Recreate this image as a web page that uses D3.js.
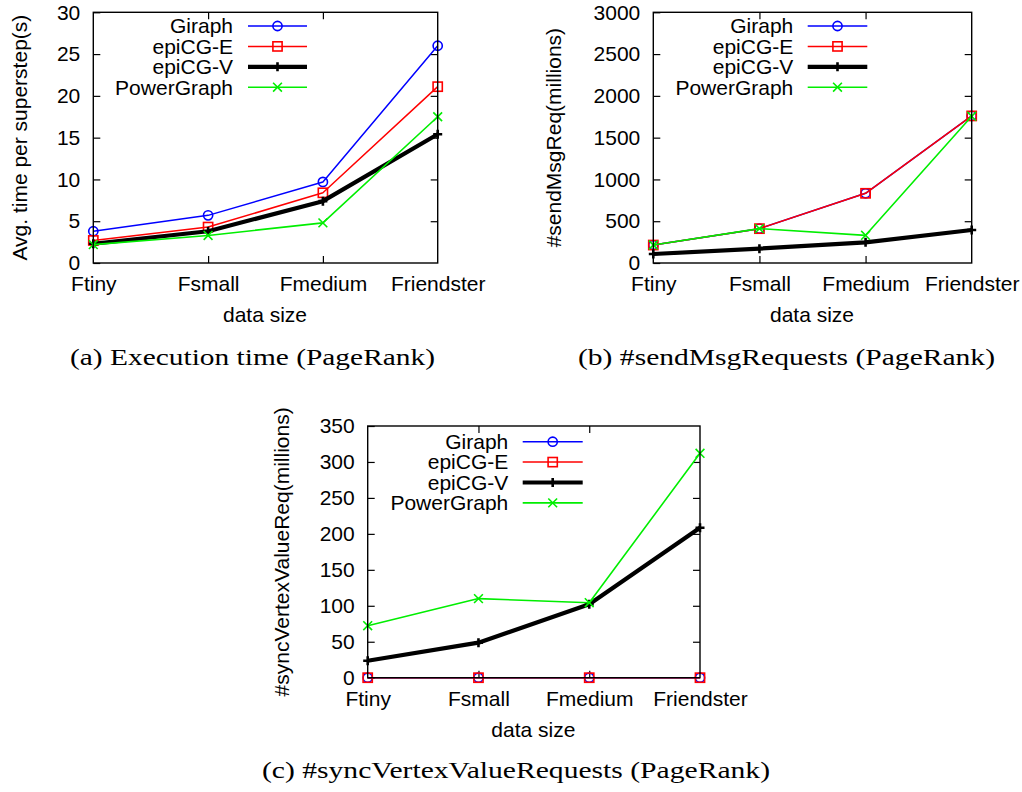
<!DOCTYPE html>
<html>
<head>
<meta charset="utf-8">
<script src="https://cdn.jsdelivr.net/npm/d3@7"></script>
<style>
  html, body { margin: 0; padding: 0; background: #fff; }
  svg { display: block; }
  text { font-family: "Liberation Sans", Arial, Helvetica, sans-serif; fill: #000; }
</style>
</head>
<body>
<svg id="chart" width="1022" height="792"></svg>
<script>
// ---------- data ----------
const categories = ["Ftiny", "Fsmall", "Fmedium", "Friendster"];
const seriesNames = ["Giraph", "epiCG-E", "epiCG-V", "PowerGraph"];

// (a) Execution time (PageRank) – seconds
const timeGiraph     = [3.8, 5.7, 9.7, 26.0];
const timeEpicgE     = [2.7, 4.3, 8.4, 21.1];
const timeEpicgV     = [2.3, 3.8, 7.4, 15.4];
const timePowerGraph = [2.2, 3.3, 4.8, 17.5];
const timeTicks = [0, 5, 10, 15, 20, 25, 30];

// (b) #sendMsgRequests (PageRank) – millions
const msgGiraph     = [215, 411, 834, 1760];
const msgEpicgE     = [215, 411, 834, 1760];
const msgEpicgV     = [108, 172, 247, 395];
const msgPowerGraph = [215, 411, 331, 1755];
const msgTicks = [0, 500, 1000, 1500, 2000, 2500, 3000];

// (c) #syncVertexValueRequests (PageRank) – millions
const syncGiraph     = [0, 0, 0, 0];
const syncEpicgE     = [0, 0, 0, 0];
const syncEpicgV     = [23.6, 48.7, 102, 208.6];
const syncPowerGraph = [72.3, 110, 104.3, 312];
const syncTicks = [0, 50, 100, 150, 200, 250, 300, 350];

// ---------- styles ----------
const seriesStyle = {
  "Giraph":     { color: "#0000ff", width: 1.5, marker: "circle" },
  "epiCG-E":    { color: "#ff0000", width: 1.5, marker: "square" },
  "epiCG-V":    { color: "#000000", width: 4.2, marker: "plus" },
  "PowerGraph": { color: "#00ee00", width: 1.6, marker: "cross" }
};

const panels = [
  {
    series: [timeGiraph, timeEpicgE, timeEpicgV, timePowerGraph],
    ticks: timeTicks, ylabel: "Avg. time per superstep(s)",
    left: 93.3, right: 437.7, top: 12.3, bottom: 263,
    ylabelX: 20, legendTextX: 233, legendX1: 248, legendX2: 307, legendY0: 26,
    caption: "(a) Execution time (PageRank)", capX: 252.5, capY: 365, capW: 365
  },
  {
    series: [msgGiraph, msgEpicgE, msgEpicgV, msgPowerGraph],
    ticks: msgTicks, ylabel: "#sendMsgReq(millions)",
    left: 653.3, right: 971.7, top: 12.3, bottom: 263,
    ylabelX: 553.3, legendTextX: 793.3, legendX1: 807.7, legendX2: 867.3, legendY0: 26,
    caption: "(b) #sendMsgRequests (PageRank)", capX: 786.5, capY: 365, capW: 417
  },
  {
    series: [syncGiraph, syncEpicgE, syncEpicgV, syncPowerGraph],
    ticks: syncTicks, ylabel: "#syncVertexValueReq(millions)",
    left: 367.7, right: 700, top: 426, bottom: 677.7,
    ylabelX: 281.7, legendTextX: 508.3, legendX1: 522.7, legendX2: 582.7, legendY0: 441.7,
    caption: "(c) #syncVertexValueRequests (PageRank)", capX: 516, capY: 778, capW: 508
  }
];

const svg = d3.select("#chart");
const FS = 21;

function drawMarker(g, type, x, y, color) {
  if (type === "circle") {
    g.append("circle").attr("cx", x).attr("cy", y).attr("r", 4.6)
      .attr("fill", "none").attr("stroke", color).attr("stroke-width", 1.6);
  } else if (type === "square") {
    g.append("rect").attr("x", x - 4.6).attr("y", y - 4.6).attr("width", 9.2).attr("height", 9.2)
      .attr("fill", "none").attr("stroke", color).attr("stroke-width", 1.6);
  } else if (type === "plus") {
    const s = 4.5;
    g.append("path").attr("d", `M${x - s},${y}H${x + s}M${x},${y - s}V${y + s}`)
      .attr("stroke", color).attr("stroke-width", 2.6).attr("fill", "none");
  } else if (type === "cross") {
    const s = 4.4;
    g.append("path").attr("d", `M${x - s},${y - s}L${x + s},${y + s}M${x - s},${y + s}L${x + s},${y - s}`)
      .attr("stroke", color).attr("stroke-width", 1.6).attr("fill", "none");
  }
}

panels.forEach(p => {
  const g = svg.append("g");
  const x = d3.scalePoint().domain(categories).range([p.left, p.right]).padding(0);
  const y = d3.scaleLinear().domain([p.ticks[0], p.ticks[p.ticks.length - 1]]).range([p.bottom, p.top]);

  // axes (inward ticks, mirrored)
  const tick = 7;
  const yl = g.append("g").attr("transform", `translate(${p.left},0)`)
    .call(d3.axisLeft(y).tickValues(p.ticks).tickFormat(d3.format("d"))
      .tickSizeInner(-tick).tickSizeOuter(0).tickPadding(13));
  const yr = g.append("g").attr("transform", `translate(${p.right},0)`)
    .call(d3.axisRight(y).tickValues(p.ticks.slice(1, -1)).tickSizeInner(-tick).tickSizeOuter(0).tickFormat(""));
  const xb = g.append("g").attr("transform", `translate(0,${p.bottom})`)
    .call(d3.axisBottom(x).tickSizeInner(-tick).tickSizeOuter(0).tickPadding(13));
  const xt = g.append("g").attr("transform", `translate(0,${p.top})`)
    .call(d3.axisTop(x).tickValues(categories.slice(1, -1)).tickSizeInner(-tick).tickSizeOuter(0).tickFormat(""));
  [yl, yr, xb, xt].forEach(a => {
    a.select(".domain").remove();
    a.selectAll("line").attr("stroke", "#000").attr("stroke-width", 1.2);
    a.selectAll("text").attr("font-size", FS).attr("font-family", "Liberation Sans, Arial, sans-serif").attr("fill", "#000");
  });
  xb.selectAll(".tick").filter(d => d === categories[0] || d === categories[categories.length - 1]).select("line").remove();

  // axis titles
  g.append("text")
    .attr("transform", `translate(${p.ylabelX},${(p.top + p.bottom) / 2}) rotate(-90)`)
    .attr("text-anchor", "middle").attr("dy", "0.35em").attr("font-size", FS)
    .text(p.ylabel);
  g.append("text")
    .attr("x", (p.left + p.right) / 2 - 0.5).attr("y", p.bottom + 59)
    .attr("text-anchor", "middle").attr("font-size", FS)
    .text("data size");

  // series
  const line = d3.line().x((d, i) => x(categories[i])).y(d => y(d));
  p.series.forEach((vals, si) => {
    const st = seriesStyle[seriesNames[si]];
    const sg = g.append("g");
    sg.append("path").datum(vals).attr("d", line)
      .attr("fill", "none").attr("stroke", st.color).attr("stroke-width", st.width)
      .attr("stroke-linejoin", "round");
    vals.forEach((v, i) => drawMarker(sg, st.marker, x(categories[i]), y(v), st.color));
  });

  // frame
  g.append("rect").attr("x", p.left).attr("y", p.top)
    .attr("width", p.right - p.left).attr("height", p.bottom - p.top)
    .attr("fill", "none").attr("stroke", "#000").attr("stroke-width", 1.4);

  // legend
  seriesNames.forEach((name, i) => {
    const st = seriesStyle[name];
    const ly = p.legendY0 + i * 20.4;
    g.append("text").attr("x", p.legendTextX).attr("y", ly).attr("dy", "0.35em")
      .attr("text-anchor", "end").attr("font-size", FS).text(name);
    g.append("line").attr("x1", p.legendX1).attr("x2", p.legendX2).attr("y1", ly).attr("y2", ly)
      .attr("stroke", st.color).attr("stroke-width", st.width);
    drawMarker(g, st.marker, (p.legendX1 + p.legendX2) / 2, ly, st.color);
  });

  // caption
  svg.append("text")
    .attr("x", p.capX).attr("y", p.capY).attr("text-anchor", "middle")
    .attr("font-size", 23).style("font-family", "'Liberation Serif', serif")
    .attr("textLength", p.capW).attr("lengthAdjust", "spacingAndGlyphs")
    .text(p.caption);
});
</script>
</body>
</html>
